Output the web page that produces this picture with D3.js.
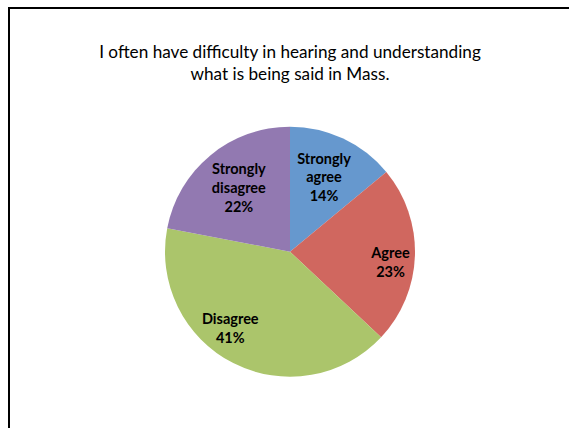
<!DOCTYPE html>
<html>
<head>
<meta charset="utf-8">
<script src="https://cdn.jsdelivr.net/npm/d3@7"></script>
<style>
  html, body { margin: 0; padding: 0; background: #fff; }
  svg { display: block; }
</style>
</head>
<body>
<svg id="chart" width="569" height="428"></svg>
<script>
// ---- data ----
const titleLines = ["I often have difficulty in hearing and understanding", "what is being said in Mass."];
const categories = ["Strongly agree", "Agree", "Disagree", "Strongly disagree"];
const labelLines = [["Strongly", "agree"], ["Agree"], ["Disagree"], ["Strongly", "disagree"]];
const values = [14, 23, 41, 22];
const colors = ["#6698CE", "#D0675F", "#ABC56B", "#9279B1"];

// ---- layout ----
const W = 569, H = 428;
const cx = 290, cy = 251.7, R = 125;
const labelRadius = [82, 101, 97, 82];
const labelAngleShift = [-0.7, 4, 11, 1]; // degrees
const fontFam = "Lato, 'Open Sans', sans-serif";

const svg = d3.select("#chart");

// slide frame
svg.append("rect")
  .attr("x", 9).attr("y", 8)
  .attr("width", W + 20).attr("height", H + 20)
  .attr("fill", "none").attr("stroke", "#000").attr("stroke-width", 2);

// title
const titleTargets = [382, 200];
const titleBase = [57.7, 80];
titleLines.forEach((t, i) => {
  const tx = svg.append("text")
    .attr("x", cx).attr("y", titleBase[i])
    .attr("text-anchor", "middle")
    .attr("font-family", fontFam)
    .attr("font-size", 16)
    .attr("fill", "#000")
    .text(t);
  if (i === 0) {
    const w = tx.node().getComputedTextLength();
    const fs = 16 * titleTargets[0] / w;
    svg.selectAll("text.title").attr("font-size", fs);
    tx.attr("font-size", fs).classed("title", true);
  } else {
    tx.classed("title", true);
  }
});
// apply same size to both lines
const fs0 = +svg.select("text.title").attr("font-size");
svg.selectAll("text.title").attr("font-size", fs0);

// pie
const pie = d3.pie().sort(null).value(d => d)
  .startAngle(0).endAngle(2 * Math.PI);
const arcs = pie(values);
const arc = d3.arc().innerRadius(0).outerRadius(R);

const g = svg.append("g").attr("transform", `translate(${cx},${cy})`);
g.selectAll("path.slice").data(arcs).enter().append("path")
  .attr("class", "slice")
  .attr("d", arc)
  .attr("fill", (d, i) => colors[i]);

// labels
// measure bold font size to match reference width of "Strongly"
const probe = svg.append("text").attr("font-family", fontFam).attr("font-weight", "bold")
  .attr("font-size", 13).text("Strongly");
const lfs = 13 * 53.7 / probe.node().getComputedTextLength();
probe.remove();

const lineH = 18.7, capH = 10.7;
arcs.forEach((d, i) => {
  const mid = (d.startAngle + d.endAngle) / 2 + labelAngleShift[i] * Math.PI / 180;
  const ax = Math.sin(mid) * labelRadius[i];
  const ay = -Math.cos(mid) * labelRadius[i];
  const lines = labelLines[i].concat([values[i] + "%"]);
  const n = lines.length;
  const firstBase = ay - (n - 1) * lineH / 2 + capH / 2;
  const t = g.append("text")
    .attr("text-anchor", "middle")
    .attr("font-family", fontFam)
    .attr("font-weight", "bold")
    .attr("font-size", lfs)
    .attr("fill", "#000");
  lines.forEach((ln, k) => {
    t.append("tspan").attr("x", ax).attr("y", firstBase + k * lineH).text(ln);
  });
});
</script>
</body>
</html>
